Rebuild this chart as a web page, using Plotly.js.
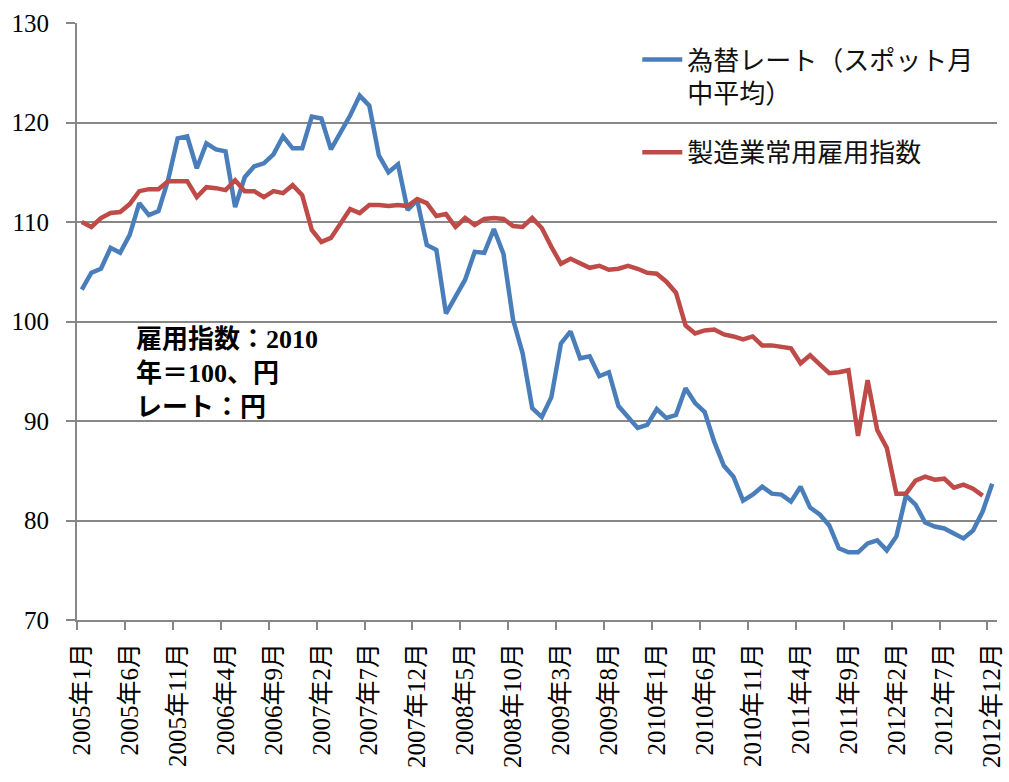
<!DOCTYPE html>
<html>
<head>
<meta charset="utf-8">
<script src="https://cdn.plot.ly/plotly-3.0.1.min.js"></script>
<style>html,body{margin:0;padding:0;background:#fff;}#chart{width:1009px;height:782px;}</style>
</head>
<body>
<div id="chart"></div>
<script>
// Monthly categories: 2005年1月 ... 2012年12月 (96 months)
const years = [2005, 2006, 2007, 2008, 2009, 2010, 2011, 2012];
const monthNums = [1,2,3,4,5,6,7,8,9,10,11,12];
const months = [];
years.forEach(y => monthNums.forEach(m => months.push(y + '年' + m + '月')));

// 為替レート（スポット月中平均） 円
const exchangeRate = [
  103.2, 104.9, 105.3, 107.4, 106.9, 108.7, 111.9, 110.7, 111.1, 114.2, 118.4, 118.6,
  115.4, 117.9, 117.3, 117.1, 111.5, 114.5, 115.6, 115.9, 116.8, 118.6, 117.4, 117.4,
  120.6, 120.4, 117.3, 118.9, 120.7, 122.7, 121.7, 116.7, 115.0, 115.8, 111.2, 112.2,
  107.7, 107.2, 100.8, 102.5, 104.2, 107.0, 106.9, 109.3, 106.8, 100.2, 96.8, 91.3,
  90.4, 92.4, 97.8, 99.0, 96.3, 96.5, 94.5, 94.9, 91.5, 90.4, 89.3, 89.6,
  91.2, 90.3, 90.6, 93.3, 91.8, 90.9, 87.9, 85.5, 84.4, 82.0, 82.6, 83.4,
  82.7, 82.6, 81.9, 83.4, 81.3, 80.6, 79.5, 77.2, 76.8, 76.8, 77.7, 78.0,
  77.0, 78.4, 82.5, 81.6, 79.8, 79.4, 79.2, 78.7, 78.2, 79.0, 80.9, 83.7
];

// 製造業常用雇用指数 (2010年=100)
const employmentIndex = [
  110.0, 109.5, 110.4, 110.9, 111.0, 111.8, 113.1, 113.3, 113.3, 114.1, 114.1, 114.1,
  112.5, 113.5, 113.4, 113.2, 114.2, 113.1, 113.1, 112.5, 113.1, 112.9, 113.7, 112.7,
  109.2, 108.0, 108.4, 109.9, 111.3, 110.9, 111.7, 111.7, 111.6, 111.7, 111.6, 112.3,
  111.9, 110.6, 110.8, 109.5, 110.4, 109.7, 110.3, 110.4, 110.3, 109.6, 109.5, 110.4,
  109.4, 107.5, 105.8, 106.3, 105.8, 105.4, 105.6, 105.2, 105.3, 105.6, 105.3, 104.9,
  104.8, 104.0, 102.9, 99.6, 98.8, 99.1, 99.2, 98.7, 98.5, 98.2, 98.5, 97.6,
  97.6, 97.5, 97.3, 95.8, 96.6, 95.7, 94.8, 94.9, 95.1, 88.5, 94.1, 89.1,
  87.3, 82.7, 82.7, 84.0, 84.4, 84.1, 84.2, 83.3, 83.6, 83.2, 82.5, null
];

const tickLabels = ['2005年1月','2005年6月','2005年11月','2006年4月','2006年9月','2007年2月',
  '2007年7月','2007年12月','2008年5月','2008年10月','2009年3月','2009年8月','2010年1月',
  '2010年6月','2010年11月','2011年4月','2011年9月','2012年2月','2012年7月','2012年12月'];

const seriesNames = ['為替レート（スポット月<br>中平均）', '製造業常用雇用指数'];
const noteText = '雇用指数：2010<br>年＝100、円<br>レート：円';

const idx = months.map((_, i) => i);
const tickIdx = tickLabels.map(l => months.indexOf(l));
const boundaryIdx = tickIdx.map(i => i - 0.5);

const serif = 'Liberation Serif, Noto Sans CJK JP, serif';
const gridCol = '#878787';

const traces = [
  {x: idx, y: exchangeRate, type: 'scatter', mode: 'lines', name: seriesNames[0],
   legendgroup: 'a', line: {color: '#4A7EBB', width: 4.5}},
  {x: idx, y: employmentIndex, type: 'scatter', mode: 'lines', name: seriesNames[1],
   legendgroup: 'b', line: {color: '#BE4B48', width: 4.5}}
];

const layout = {
  width: 1009, height: 782,
  margin: {l: 77, r: 12, t: 23, b: 162},
  paper_bgcolor: '#fff', plot_bgcolor: '#fff',
  showlegend: true,
  legend: {x: 0.609, y: 0.978, xanchor: 'left', yanchor: 'top', bgcolor: 'rgba(0,0,0,0)',
    font: {family: 'Noto Sans CJK JP, sans-serif', size: 26, color: '#111'},
    valign: 'top', tracegroupgap: 22, itemwidth: 40},
  xaxis: {
    range: [-0.5, 95.5], tickmode: 'array', tickvals: tickIdx, ticktext: tickLabels,
    tickangle: -90, ticks: '', ticklabelstandoff: 11,
    tickfont: {family: serif, size: 25, color: '#000'},
    showgrid: false, zeroline: false, showline: true, linecolor: gridCol, linewidth: 2,
    minor: {tickmode: 'array', tickvals: boundaryIdx, ticks: 'outside', ticklen: 8,
      tickwidth: 2, tickcolor: gridCol, showgrid: false}
  },
  yaxis: {
    range: [70, 130], tickmode: 'linear', tick0: 70, dtick: 10,
    ticks: 'outside', ticklen: 9, tickwidth: 2, tickcolor: gridCol,
    tickfont: {family: serif, size: 25, color: '#000'}, ticklabelstandoff: 12,
    showgrid: true, gridcolor: gridCol, gridwidth: 2,
    zeroline: false, showline: true, linecolor: gridCol, linewidth: 2
  },
  annotations: [{
    xref: 'paper', yref: 'y', x: 0.062, y: 99.9, xanchor: 'left', yanchor: 'top',
    align: 'left', showarrow: false, text: '<b>' + noteText + '</b>',
    font: {family: serif, size: 26, color: '#000'}
  }]
};

Plotly.newPlot('chart', traces, layout, {displayModeBar: false, staticPlot: true});
</script>
</body>
</html>
